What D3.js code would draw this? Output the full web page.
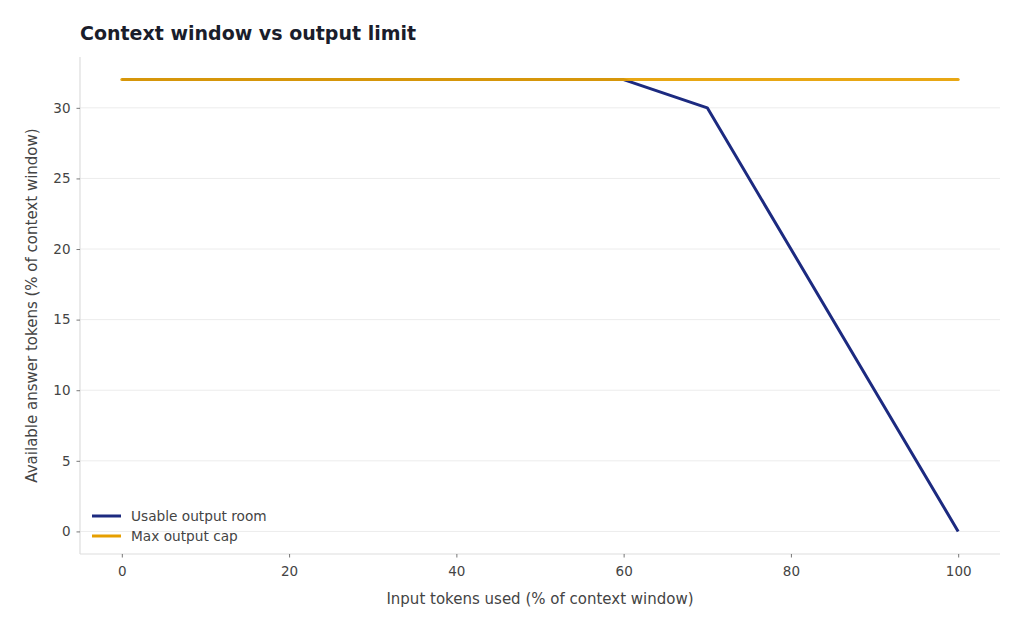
<!DOCTYPE html>
<html><head><meta charset="utf-8">
<script src="https://cdn.jsdelivr.net/npm/d3@7"></script>
<style>body{margin:0;background:#fff;} svg{display:block;font-family:"DejaVu Sans",sans-serif;}</style>
</head><body>
<svg id="c" width="1024" height="631"></svg>
<script>
const xValues = [0, 10, 20, 30, 40, 50, 60, 70, 80, 90, 100];
const usableOutput = [32, 32, 32, 32, 32, 32, 32, 30, 20, 10, 0];
const maxOutputCap = [32, 32, 32, 32, 32, 32, 32, 32, 32, 32, 32];
const xTicks = [0, 20, 40, 60, 80, 100];
const yTicks = [0, 5, 10, 15, 20, 25, 30];
const seriesNames = ["Usable output room", "Max output cap"];

const svg = d3.select("#c");
const L = 80, R = 1000, T = 57, B = 554;
const x = d3.scaleLinear().domain([-5, 105]).range([L, R]);
const y = d3.scaleLinear().domain([-1.6, 33.6]).range([B, T]);

// grid
svg.append("g").selectAll("line").data(yTicks).join("line")
  .attr("x1", L).attr("x2", R).attr("y1", d => y(d)).attr("y2", d => y(d))
  .attr("stroke", "#ececec").attr("stroke-width", 1);

// spines
svg.append("line").attr("x1", L).attr("x2", L).attr("y1", T).attr("y2", B).attr("stroke", "#dddddd").attr("stroke-width", 1.2);
svg.append("line").attr("x1", L).attr("x2", R).attr("y1", B).attr("y2", B).attr("stroke", "#dddddd").attr("stroke-width", 1.2);

// axes
const xAxis = svg.append("g").attr("transform", `translate(0,${B})`)
  .call(d3.axisBottom(x).tickValues(xTicks).tickSize(3.5).tickPadding(5).tickFormat(d3.format("d")));
const yAxis = svg.append("g").attr("transform", `translate(${L},0)`)
  .call(d3.axisLeft(y).tickValues(yTicks).tickSize(3.5).tickPadding(6).tickFormat(d3.format("d")));
[xAxis, yAxis].forEach(a => {
  a.select(".domain").remove();
  a.selectAll(".tick line").attr("stroke", "#555").attr("stroke-width", 0.8);
  a.selectAll(".tick text").attr("fill", "#444").attr("font-size", 13.5).attr("font-family", "DejaVu Sans");
});
xAxis.selectAll(".tick text").attr("dy", "1.0em");

// lines
const line = d3.line().x((d, i) => x(xValues[i])).y(d => y(d));
svg.append("path").datum(usableOutput).attr("d", line).attr("fill", "none")
  .attr("stroke", "#1c2a80").attr("stroke-width", 3).attr("stroke-linejoin", "round");
svg.append("path").datum(maxOutputCap).attr("d", line).attr("fill", "none")
  .attr("stroke", "#e69f00").attr("stroke-width", 3).attr("stroke-opacity", 0.92).attr("stroke-linecap", "round");

// title
svg.append("text").attr("x", 80).attr("y", 40).text("Context window vs output limit")
  .attr("font-size", 19).attr("font-weight", "bold").attr("fill", "#1a1d2b");

// axis labels
svg.append("text").attr("x", (L + R) / 2).attr("y", 604).attr("text-anchor", "middle")
  .text("Input tokens used (% of context window)").attr("font-size", 15).attr("fill", "#444");
svg.append("text").attr("transform", `translate(37,${(T + B) / 2}) rotate(-90)`).attr("text-anchor", "middle")
  .text("Available answer tokens (% of context window)").attr("font-size", 15).attr("fill", "#444");

// legend
const colors = ["#1c2a80", "#e69f00"];
const lg = svg.append("g");
seriesNames.forEach((n, i) => {
  const yy = 516 + i * 20;
  lg.append("line").attr("x1", 92).attr("x2", 121).attr("y1", yy).attr("y2", yy)
    .attr("stroke", colors[i]).attr("stroke-width", 3);
  lg.append("text").attr("x", 131).attr("y", yy).attr("dy", "0.35em").text(n)
    .attr("font-size", 13.7).attr("fill", "#444");
});
</script>
</body></html>
